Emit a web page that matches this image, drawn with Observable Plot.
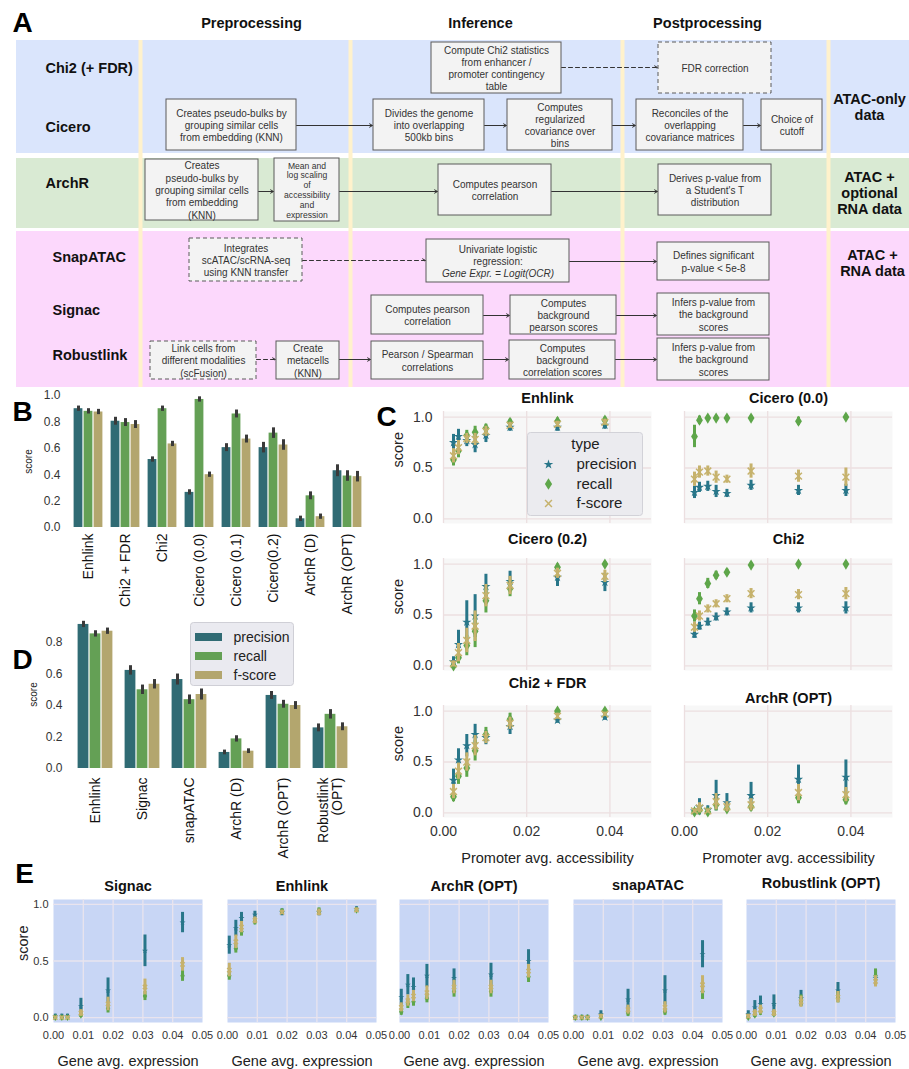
<!DOCTYPE html>
<html><head><meta charset="utf-8">
<script src="https://cdn.jsdelivr.net/npm/d3@7"></script>
<script src="https://cdn.jsdelivr.net/npm/@observablehq/plot@0.6"></script>
<style>
body{margin:0;background:#fff;}
#fig{position:relative;width:909px;height:1069px;overflow:hidden;background:#fff;}
#fig svg{position:absolute;}
</style></head><body><div id="fig"></div><script>
// ---------------- DATA ----------------
const types = ["precision", "recall", "f-score"];

// Panel B
const bMethods = ["Enhlink", "Chi2 + FDR", "Chi2", "Cicero (0.0)", "Cicero (0.1)", "Cicero(0.2)", "ArchR (D)", "ArchR (OPT)"];
const bPrecision = [0.90, 0.805, 0.515, 0.266, 0.605, 0.605, 0.066, 0.43];
const bRecall = [0.88, 0.795, 0.90, 0.97, 0.86, 0.715, 0.24, 0.39];
const bFscore = [0.875, 0.78, 0.633, 0.40, 0.67, 0.625, 0.082, 0.385];
const bPrecisionErr = [0.02, 0.03, 0.02, 0.02, 0.03, 0.04, 0.02, 0.045];
const bRecallErr = [0.02, 0.03, 0.02, 0.02, 0.03, 0.04, 0.03, 0.04];
const bFscoreErr = [0.02, 0.03, 0.02, 0.02, 0.03, 0.04, 0.02, 0.04];

// Panel D
const dMethods = ["Enhlink", "Signac", "snapATAC", "ArchR (D)", "ArchR (OPT)", "Robustlink (OPT)"];
const dPrecision = [0.915, 0.623, 0.565, 0.102, 0.464, 0.258];
const dRecall = [0.855, 0.50, 0.437, 0.188, 0.408, 0.344];
const dFscore = [0.872, 0.535, 0.47, 0.11, 0.40, 0.265];
const dPrecisionErr = [0.02, 0.03, 0.035, 0.015, 0.025, 0.025];
const dRecallErr = [0.02, 0.03, 0.03, 0.02, 0.025, 0.03];
const dFscoreErr = [0.02, 0.03, 0.035, 0.015, 0.025, 0.025];

// Panel C : promoter accessibility bins; rows = [prec, err, recall, err, fscore, err]
const cBins = [0.0024, 0.0036, 0.0056, 0.0076, 0.0102, 0.016, 0.0274, 0.0388];
const cXTicks = [0, 0.02, 0.04];
const cEnhlink = [[0.75,0.08,0.58,0.06,0.62,0.07],[0.81,0.07,0.67,0.07,0.70,0.07],[0.77,0.06,0.82,0.05,0.79,0.05],[0.73,0.08,0.85,0.06,0.78,0.06],[0.82,0.07,0.89,0.04,0.86,0.05],[0.90,0.04,0.95,0.03,0.92,0.03],[0.90,0.04,0.96,0.03,0.93,0.03],[0.92,0.04,0.97,0.03,0.95,0.03]];
const cCicero00 = [[0.26,0.06,0.81,0.11,0.39,0.07],[0.31,0.05,0.97,0.04,0.46,0.06],[0.32,0.05,0.99,0.02,0.47,0.05],[0.27,0.06,0.99,0.02,0.41,0.06],[0.25,0.04,0.99,0.02,0.39,0.04],[0.33,0.05,0.99,0.02,0.47,0.07],[0.28,0.05,0.96,0.04,0.42,0.06],[0.28,0.06,1.00,0.02,0.41,0.09]];
const cCicero02 = [[0.04,0.05,0.00,0.02,0.02,0.03],[0.21,0.14,0.08,0.06,0.13,0.09],[0.43,0.21,0.20,0.10,0.25,0.12],[0.49,0.21,0.34,0.16,0.39,0.15],[0.78,0.12,0.64,0.12,0.69,0.11],[0.83,0.10,0.76,0.08,0.79,0.09],[0.87,0.09,0.97,0.03,0.91,0.05],[0.82,0.09,1.00,0.02,0.88,0.06]];
const cChi2 = [[0.31,0.04,0.49,0.06,0.38,0.05],[0.39,0.04,0.66,0.06,0.49,0.05],[0.43,0.04,0.81,0.05,0.56,0.04],[0.48,0.04,0.89,0.04,0.61,0.04],[0.53,0.04,0.92,0.03,0.66,0.04],[0.57,0.05,0.99,0.02,0.71,0.05],[0.57,0.05,1.00,0.02,0.70,0.05],[0.57,0.06,1.00,0.02,0.71,0.06]];
const cChi2FDR = [[0.32,0.11,0.16,0.05,0.21,0.07],[0.52,0.11,0.36,0.08,0.41,0.08],[0.66,0.11,0.44,0.09,0.50,0.09],[0.77,0.10,0.61,0.10,0.66,0.10],[0.74,0.07,0.77,0.07,0.74,0.06],[0.85,0.08,0.92,0.06,0.88,0.06],[0.91,0.03,1.00,0.02,0.95,0.03],[0.94,0.03,1.00,0.02,0.97,0.02]];
const cArchROPT = [[0.02,0.02,0.01,0.01,0.02,0.02],[0.06,0.08,0.03,0.03,0.05,0.05],[0.03,0.04,0.01,0.01,0.02,0.02],[0.17,0.15,0.08,0.06,0.11,0.08],[0.10,0.09,0.04,0.03,0.06,0.05],[0.17,0.13,0.06,0.04,0.08,0.06],[0.33,0.14,0.15,0.06,0.20,0.08],[0.35,0.17,0.13,0.05,0.18,0.07]];

// Panel E : gene expression bins
const eBins = [0.0006, 0.0028, 0.0047, 0.0092, 0.0183, 0.0307, 0.0433];
const eXTicks = [0, 0.01, 0.02, 0.03, 0.04, 0.05];
const eSignac = [[0.01,0.02,0.00,0.01,0.00,0.01],[0.01,0.02,0.00,0.01,0.00,0.01],[0.01,0.02,0.00,0.01,0.00,0.01],[0.10,0.07,0.02,0.02,0.04,0.03],[0.24,0.11,0.08,0.04,0.12,0.06],[0.59,0.14,0.19,0.04,0.27,0.07],[0.84,0.09,0.37,0.05,0.47,0.06]];
const eEnhlink = [[0.64,0.08,0.37,0.04,0.42,0.06],[0.79,0.07,0.61,0.04,0.67,0.06],[0.88,0.05,0.76,0.04,0.80,0.05],[0.91,0.03,0.85,0.03,0.86,0.03],[0.93,0.03,0.94,0.02,0.93,0.02],[0.93,0.03,0.94,0.03,0.93,0.03],[0.96,0.02,0.95,0.02,0.95,0.02]];
const eArchROPT = [[0.18,0.07,0.05,0.03,0.09,0.04],[0.29,0.09,0.12,0.04,0.15,0.05],[0.27,0.08,0.14,0.04,0.19,0.05],[0.37,0.10,0.17,0.04,0.22,0.06],[0.35,0.08,0.23,0.05,0.27,0.06],[0.38,0.10,0.23,0.05,0.27,0.06],[0.50,0.10,0.36,0.05,0.41,0.06]];
const eSnapATAC = [[0.00,0.02,0.00,0.01,0.00,0.01],[0.00,0.02,0.00,0.01,0.00,0.01],[0.00,0.02,0.00,0.01,0.00,0.01],[0.03,0.03,0.00,0.01,0.01,0.02],[0.16,0.09,0.04,0.03,0.07,0.04],[0.24,0.13,0.05,0.03,0.09,0.05],[0.56,0.12,0.23,0.07,0.29,0.08]];
const eRobustlink = [[0.03,0.03,0.00,0.01,0.01,0.02],[0.09,0.06,0.02,0.02,0.04,0.03],[0.12,0.07,0.05,0.03,0.07,0.04],[0.12,0.08,0.03,0.02,0.04,0.03],[0.17,0.07,0.15,0.05,0.14,0.05],[0.24,0.07,0.18,0.05,0.18,0.05],[0.35,0.07,0.37,0.06,0.32,0.05]];

// Panel A diagram content
const colHeaders = ["Preprocessing", "Inference", "Postprocessing"];
const methodRows = ["Chi2 (+ FDR)", "Cicero", "ArchR", "SnapATAC", "Signac", "Robustlink"];
const dataTypes = ["ATAC-only\ndata", "ATAC +\noptional\nRNA data", "ATAC +\nRNA data"];
const stepTexts = [
  "Compute Chi2 statistics\nfrom enhancer /\npromoter contingency\ntable", "FDR correction",
  "Creates pseudo-bulks by\ngrouping similar cells\nfrom embedding (KNN)", "Divides the genome\ninto overlapping\n500kb bins",
  "Computes\nregularized\ncovariance over\nbins", "Reconciles of the\noverlapping\ncovariance matrices", "Choice of\ncutoff",
  "Creates\npseudo-bulks by\ngrouping similar cells\nfrom embedding\n(KNN)", "Mean and\nlog scaling\nof\naccessibility\nand\nexpression",
  "Computes pearson\ncorrelation", "Derives p-value from\na Student's T\ndistribution",
  "Integrates\nscATAC/scRNA-seq\nusing KNN transfer", "Univariate logistic\nregression:", "Defines significant\np-value < 5e-8",
  "Computes pearson\ncorrelation", "Computes\nbackground\npearson scores", "Infers p-value from\nthe background\nscores",
  "Link cells from\ndifferent modalities\n(scFusion)", "Create\nmetacells\n(KNN)", "Pearson / Spearman\ncorrelations",
  "Computes\nbackground\ncorrelation scores", "Infers p-value from\nthe background\nscores"
];
const formulaText = "Gene Expr. = Logit(OCR)";

// ---------------- LAYOUT / STYLE ----------------
const FONT = "'Liberation Sans', Arial, Helvetica, sans-serif";
const barColors = ["#306b74", "#64a055", "#b3a66e"];
const pointColors = ["#287689", "#5ea64a", "#c6b26c"];
const fig = document.getElementById("fig");
function put(el, left, top) { el.style.left = left + "px"; el.style.top = top + "px"; fig.appendChild(el); return el; }
const thinDiamond = { draw(ctx, size) { const h = Math.sqrt(size) * 0.78, w = h * 0.62; ctx.moveTo(0, -h); ctx.lineTo(w, 0); ctx.lineTo(0, h); ctx.lineTo(-w, 0); ctx.closePath(); } };

function pixelPlot(w, h, marks) {
  return Plot.plot({ width: w, height: h, margin: 0,
    x: { domain: [0, w], range: [0, w], axis: null }, y: { domain: [0, h], range: [0, h], axis: null },
    color: { type: "identity" }, style: { background: "transparent", fontFamily: FONT, overflow: "visible" }, marks });
}

// ---------------- PANEL A ----------------
const bandLayout = [{ y1: 40, y2: 153, fill: "#dae5fc" }, { y1: 158, y2: 228, fill: "#d9ead3" }, { y1: 231, y2: 387, fill: "#fcd8fc" }];
const creamX = [140, 350, 622, 828];
const headerPos = [251, 480, 707];
const rowPos = [[45, 68], [45, 127], [45, 183], [52, 257], [52, 310], [52, 355]];
const dataTypePos = [[869, 106], [869, 192], [872, 262]];
const boxPos = [
  [431,42,561,93,0],[658,42,771,93,1],
  [166,99,296,150,0],[373,99,484,150,0],[507,99,612,150,0],[636,99,743,150,0],[761,99,822,150,0],
  [145,159,258,220,0],[274,158,339,221,0],[438,164,551,215,0],[658,164,771,215,0],
  [189,238,302,281,1],[426,239,569,282,0],[657,242,769,280,0],
  [371,295,483,334,0],[510,295,616,334,0],[657,293,769,335,0],
  [150,341,256,379,1],[276,341,339,379,0],[371,341,483,379,0],[509,340,615,379,0],[657,338,769,380,0]
];
const arrowPos = [
  [561,67,657,67,1],[296,125,372,125,0],[484,125,506,125,0],[612,125,635,125,0],[743,125,760,125,0],
  [258,191,273,191,0],[339,191,437,191,0],[551,191,657,191,0],
  [302,260,425,260,1],[569,261,656,261,0],
  [483,315,509,315,0],[616,315,656,315,0],
  [256,359,275,359,1],[339,359,370,359,0],[483,359,508,359,0],[615,359,656,359,0]
];
const boxes = boxPos.map((b, i) => ({ x1: b[0], y1: b[1], x2: b[2], y2: b[3], dashed: b[4], label: stepTexts[i], shift: i === 12 ? -6 : 0 }));
const arrows = arrowPos.map(a => ({ x1: a[0], y1: a[1], x2: a[2], y2: a[3], dashed: a[4] }));
const boxRect = { x1: "x1", x2: "x2", y1: "y1", y2: "y2", fill: "#f3f3f3", stroke: "#5a5a5a", strokeWidth: 1 };
const arrowOpt = { x1: "x1", y1: "y1", x2: "x2", y2: "y2", stroke: "#333", strokeWidth: 1, headLength: 5 };
const smallBox = 8;
put(pixelPlot(909, 390, [
  Plot.rect(bandLayout, { x1: () => 16, x2: () => 909, y1: "y1", y2: "y2", fill: "fill" }),
  Plot.ruleX(creamX, { x: d => d, y1: () => 40, y2: () => 387, stroke: "#fff2cc", strokeWidth: 4 }),
  Plot.arrow(arrows.filter(a => !a.dashed), arrowOpt),
  Plot.arrow(arrows.filter(a => a.dashed), { ...arrowOpt, strokeDasharray: "4,3" }),
  Plot.rect(boxes.filter(b => !b.dashed), boxRect),
  Plot.rect(boxes.filter(b => b.dashed), { ...boxRect, strokeDasharray: "4,3" }),
  Plot.text(boxes.filter((b, i) => i !== smallBox), { x: d => (d.x1 + d.x2) / 2, y: d => (d.y1 + d.y2) / 2 + d.shift, text: "label", fontSize: 10, lineHeight: 1.23, fill: "#333" }),
  Plot.text(boxes.filter((b, i) => i === smallBox), { x: d => (d.x1 + d.x2) / 2, y: d => (d.y1 + d.y2) / 2, text: "label", fontSize: 8.6, lineHeight: 1.14, fill: "#333" }),
  Plot.text([formulaText], { x: () => 497.5, y: () => 273, text: d => d, fontSize: 10, fontStyle: "italic", fill: "#333" }),
  Plot.text(colHeaders, { x: (d, i) => headerPos[i], y: () => 23, text: d => d, fontSize: 14.5, fontWeight: "bold", fill: "#111" }),
  Plot.text(methodRows, { x: (d, i) => rowPos[i][0], y: (d, i) => rowPos[i][1], text: d => d, fontSize: 14.5, fontWeight: "bold", textAnchor: "start", fill: "#111" }),
  Plot.text(dataTypes, { x: (d, i) => dataTypePos[i][0], y: (d, i) => dataTypePos[i][1], text: d => d, fontSize: 14.5, fontWeight: "bold", lineHeight: 1.1, fill: "#111" })
]), 0, 0);

// ---------------- PANELS B & D (grouped bars) ----------------
function barPanel(o) {
  const rows = o.methods.flatMap((m, i) => [
    { method: m, type: "precision", v: o.p[i], e: o.pe[i] },
    { method: m, type: "recall", v: o.r[i], e: o.re[i] },
    { method: m, type: "f-score", v: o.f[i], e: o.fe[i] }]);
  return Plot.plot({
    width: o.width, height: o.height, marginLeft: o.mL, marginRight: o.mR, marginTop: o.mT, marginBottom: o.mB,
    style: { background: "transparent", fontFamily: FONT, overflow: "visible" },
    fx: { domain: o.methods, paddingInner: 0.2, paddingOuter: 0.1, axis: null },
    x: { domain: types, padding: 0, axis: null },
    y: { domain: o.yDomain, axis: null },
    color: { domain: types, range: barColors },
    marks: [
      Plot.barY(rows, { fx: "method", x: "type", y: "v", fill: "type", insetLeft: 0.6, insetRight: 0.6 }),
      Plot.ruleX(rows, { fx: "method", x: "type", y1: d => d.v - d.e, y2: d => d.v + d.e, stroke: "#3a3a3a", strokeWidth: 3 }),
      Plot.axisY({ ticks: o.yTicks, tickFormat: ".1f", tickSize: 0, tickPadding: o.yPad, fontSize: 12, color: "#333", label: null }),
      Plot.axisY({ ticks: [0], tickFormat: () => "", tickSize: 0, label: "score", labelAnchor: "center", labelArrow: "none", labelOffset: o.labelOffset, fontSize: 10, color: "#222" }),
      Plot.axisFx({ anchor: "bottom", tickRotate: -90, tickSize: 0, tickPadding: o.fxPad, fontSize: 14, label: null, color: "#111", tickFormat: o.fxFormat || (d => d) })
    ]
  });
}
put(barPanel({ methods: bMethods, p: bPrecision, r: bRecall, f: bFscore, pe: bPrecisionErr, re: bRecallErr, fe: bFscoreErr,
  width: 375, height: 240, mL: 68, mR: 8, mT: 10, mB: 98, yDomain: [0, 1], yTicks: [0, 0.2, 0.4, 0.6, 0.8, 1.0], yPad: 13, labelOffset: 49, fxPad: 6 }), 0, 385);
put(barPanel({ methods: dMethods, p: dPrecision, r: dRecall, f: dFscore, pe: dPrecisionErr, re: dRecallErr, fe: dFscoreErr,
  width: 360, height: 250, mL: 70, mR: 6, mT: 5, mB: 97, yDomain: [0, 0.94], yTicks: [0, 0.2, 0.4, 0.6, 0.8], yPad: 14, labelOffset: 47, fxPad: 9,
  fxFormat: d => d === "Robustlink (OPT)" ? "Robustlink\n(OPT)" : d }), 0, 615);

// legend D
put(pixelPlot(104, 64, [
  Plot.rect([0], { x1: () => 0.5, x2: () => 103.5, y1: () => 0.5, y2: () => 63.5, fill: "#eaeaf0", stroke: "#cfcfd6", rx: 3 }),
  Plot.rect(types, { x1: () => 5, x2: () => 32, y1: (d, i) => 11 + i * 19, y2: (d, i) => 19 + i * 19, fill: (d, i) => barColors[i] }),
  Plot.text(types, { x: () => 43, y: (d, i) => 15 + i * 19, text: d => d, textAnchor: "start", fontSize: 14, fill: "#222" })
]), 190, 622);

// ---------------- PANELS C & E (point + error bar facets) ----------------
function pointFacet(o) {
  const pts = o.bins.flatMap((x, i) => types.map((t, j) => ({ x, type: t, v: o.rows[i][2 * j], e: o.rows[i][2 * j + 1] })));
  const marks = [
    Plot.frame({ fill: o.bg, stroke: "none" }),
    Plot.ruleX(o.gridX, { stroke: o.grid, strokeWidth: 1.3 }),
    Plot.ruleY([0, 0.5, 1], { stroke: o.grid, strokeWidth: 1.3 })
  ];
  types.forEach((t, j) => {
    const sub = pts.filter(d => d.type === t);
    marks.push(Plot.ruleX(sub, { x: "x", y1: d => d.v - d.e, y2: d => d.v + d.e, stroke: pointColors[j], strokeWidth: o.ew }));
    if (j === 0) marks.push(Plot.dot(sub, { x: "x", y: "v", symbol: "star", r: o.r * 0.72, fill: pointColors[j], stroke: "none" }));
    if (j === 1) marks.push(Plot.dot(sub, { x: "x", y: "v", symbol: thinDiamond, r: o.r, fill: pointColors[j], stroke: "none" }));
    if (j === 2) marks.push(Plot.dot(sub, { x: "x", y: "v", symbol: "times", r: o.r * 0.8, stroke: pointColors[j], strokeWidth: 1.5, fill: "none" }));
  });
  marks.push(Plot.text([o.title], { frameAnchor: "top", dy: o.titleDy, lineAnchor: "middle", fontWeight: "bold", fontSize: 14.5, fill: "#111", text: d => d }));
  if (o.showY) {
    marks.push(Plot.axisY({ ticks: [0, 0.5, 1], tickFormat: ".1f", tickSize: 0, tickPadding: o.yPad, fontSize: o.tickFs, color: "#333", label: null }));
    marks.push(Plot.text(["score"], { frameAnchor: "left", dx: o.scoreDx, rotate: -90, fontSize: 14.5, fill: "#222", text: d => d }));
  }
  if (o.showX) {
    marks.push(Plot.axisX({ ticks: o.xTicks, tickFormat: o.xFmt, tickSize: 0, tickPadding: o.xPad, fontSize: o.tickFs, color: "#333", label: null }));
    marks.push(Plot.text([o.xLabel], { frameAnchor: "bottom", dy: o.xLabelDy, lineAnchor: "middle", fontSize: 14.5, fill: "#222", text: d => d }));
  }
  return Plot.plot({
    width: o.mL + o.w + o.mR, height: o.mT + o.h + o.mB, marginLeft: o.mL, marginRight: o.mR, marginTop: o.mT, marginBottom: o.mB,
    style: { background: "transparent", fontFamily: FONT, overflow: "visible" },
    x: { domain: [0, 0.05], axis: null }, y: { domain: o.yDomain, axis: null }, marks
  });
}
const cCommon = { bins: cBins, w: 208, h: 112, mT: 30, mR: 12, bg: "#f7f7f7", grid: "#ecdfe0", gridX: cXTicks, ew: 3, r: 4,
  yDomain: [-0.045, 1.055], tickFs: 14, yPad: 11, scoreDx: -45, xTicks: cXTicks, xFmt: ".2f", xPad: 9,
  xLabel: "Promoter avg. accessibility", xLabelDy: 41 };
const cFacets = [
  { title: "Enhlink", rows: cEnhlink, col: 0, top: 411, titleDy: -13 },
  { title: "Cicero (0.0)", rows: cCicero00, col: 1, top: 411, titleDy: -13 },
  { title: "Cicero (0.2)", rows: cCicero02, col: 0, top: 558, titleDy: -19 },
  { title: "Chi2", rows: cChi2, col: 1, top: 558, titleDy: -19 },
  { title: "Chi2 + FDR", rows: cChi2FDR, col: 0, top: 705, titleDy: -22, last: true },
  { title: "ArchR (OPT)", rows: cArchROPT, col: 1, top: 705, titleDy: -7, last: true }
];
cFacets.forEach(f => {
  const mL = f.col === 0 ? 68 : 24;
  const areaLeft = f.col === 0 ? 443 : 684;
  put(pointFacet({ ...cCommon, ...f, mL, mB: f.last ? 52 : 8, showY: f.col === 0, showX: !!f.last }), areaLeft - mL, f.top - 30);
});
// legend C
const legSyms = ["star", thinDiamond, "times"];
put(pixelPlot(116, 84, [
  Plot.rect([0], { x1: () => 0.5, x2: () => 115.5, y1: () => 0.5, y2: () => 83.5, fill: "#ebebef", stroke: "#d2d2d8", rx: 3 }),
  Plot.text(["type"], { x: () => 58, y: () => 12, text: d => d, fontSize: 15, fill: "#222" }),
  ...types.map((t, j) => j === 2
    ? Plot.dot([t], { x: () => 21, y: () => 32 + j * 19.5, symbol: "times", r: 3.2, stroke: pointColors[j], strokeWidth: 1.5 })
    : Plot.dot([t], { x: () => 21, y: () => 32 + j * 19.5, symbol: legSyms[j], r: j === 0 ? 3 : 4.2, fill: pointColors[j], stroke: "none" })),
  Plot.text(types, { x: () => 49, y: (d, i) => 32 + i * 19.5, text: d => d, textAnchor: "start", fontSize: 15, fill: "#222" })
]), 527, 432);

const eCommon = { bins: eBins, w: 149, h: 123, mT: 39, mR: 14, mB: 48, bg: "#c8d6f5", grid: "#e9e4ee", gridX: [0.01, 0.02, 0.03, 0.04], ew: 3, r: 2.6,
  yDomain: [-0.044, 1.044], tickFs: 11, yPad: 5, scoreDx: -30, xTicks: eXTicks, xFmt: ".2f", xPad: 9,
  xLabel: "Gene avg. expression", xLabelDy: 39, showX: true };
const eFacets = [
  { title: "Signac", rows: eSignac, left: 53, titleDy: -13, showY: true },
  { title: "Enhlink", rows: eEnhlink, left: 227, titleDy: -13 },
  { title: "ArchR (OPT)", rows: eArchROPT, left: 399, titleDy: -13 },
  { title: "snapATAC", rows: eSnapATAC, left: 573, titleDy: -14 },
  { title: "Robustlink (OPT)", rows: eRobustlink, left: 746, titleDy: -16 }
];
eFacets.forEach(f => {
  const mL = f.showY ? 53 : 22;
  put(pointFacet({ ...eCommon, ...f, mL }), f.left - mL, 860);
});

// ---------------- PANEL LETTERS ----------------
const panelLetters = ["A", "B", "C", "D", "E"];
const letterPos = [[22, 23], [22, 412], [386, 417], [22, 660], [24, 874]];
const letters = pixelPlot(909, 1069, [
  Plot.text(panelLetters, { x: (d, i) => letterPos[i][0], y: (d, i) => letterPos[i][1], text: d => d, fontSize: 28, fontWeight: "bold", fill: "#000" })
]);
letters.style.pointerEvents = "none";
put(letters, 0, 0);
</script></body></html>
